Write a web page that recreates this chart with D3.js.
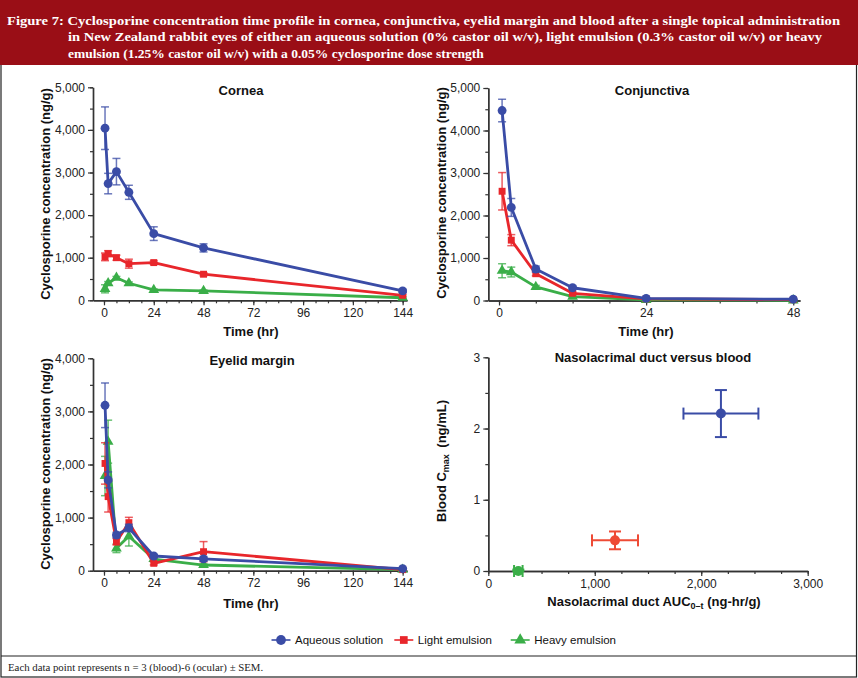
<!DOCTYPE html>
<html><head><meta charset="utf-8">
<script src="https://cdn.jsdelivr.net/npm/d3@7"></script>
<style>
html,body{margin:0;padding:0;background:#fff;}
svg{display:block;}
</style></head>
<body><div id="chart"></div>
<script>
// ---------------- DATA ----------------
const seriesNames = ["Aqueous solution", "Light emulsion", "Heavy emulsion"];
const times = [0.5, 2, 6, 12, 24, 48, 144];
const conjTimes = [0.5, 2, 6, 12, 24, 48];

const corneaAqueous = [4040, 2740, 3020, 2535, 1565, 1230, 220];
const corneaAqueousErr = [500, 240, 310, 165, 160, 95, 40];
const corneaLight = [1020, 1095, 1000, 860, 885, 612, 118];
const corneaLightErr = [90, 70, 60, 105, 40, 35, 20];
const corneaHeavy = [270, 400, 530, 400, 245, 220, 60];
const corneaHeavyErr = [95, 40, 30, 30, 20, 20, 15];

const conjAqueous = [4470, 2190, 740, 300, 50, 30];
const conjAqueousErr = [265, 210, 70, 40, 10, 10];
const conjLight = [2570, 1420, 630, 170, 40, 20];
const conjLightErr = [440, 130, 50, 30, 10, 5];
const conjHeavy = [700, 670, 320, 90, 15, 5];
const conjHeavyErr = [165, 115, 35, 15, 5, 5];

const eyelidAqueous = [3115, 1710, 672, 805, 277, 222, 40];
const eyelidAqueousErr = [420, 150, 50, 70, 30, 45, 10];
const eyelidLight = [2020, 1395, 546, 905, 139, 358, 20];
const eyelidLightErr = [390, 290, 60, 100, 30, 190, 10];
const eyelidHeavy = [1783, 2430, 421, 650, 220, 107, 20];
const eyelidHeavyErr = [370, 405, 80, 185, 20, 20, 10];

const aucValues = [2185, 1190, 282];
const aucErr = [352, 216, 40];
const cmaxValues = [2.21, 0.43, 0.0];
const cmaxErr = [0.33, 0.125, 0.02];

const timeTicks144 = [0, 24, 48, 72, 96, 120, 144];
const timeTicks48 = [0, 24, 48];
const concTicks5000 = [0, 1000, 2000, 3000, 4000, 5000];
const concTicks4000 = [0, 1000, 2000, 3000, 4000];
const aucTicks = [0, 1000, 2000, 3000];
const cmaxTicks = [0, 1, 2, 3];

const headerLines = [
  "Figure 7: Cyclosporine concentration time profile in cornea, conjunctiva, eyelid margin and blood after a single topical administration",
  "in New Zealand rabbit eyes of either an aqueous solution (0% castor oil w/v), light emulsion (0.3% castor oil w/v) or heavy",
  "emulsion (1.25% castor oil w/v) with a 0.05% cyclosporine dose strength"
];
const footerText = "Each data point represents n = 3 (blood)-6 (ocular) \u00B1 SEM.";

// ---------------- STYLE ----------------
const W = 858, H = 678;
const colors = ["#3a4ca6", "#e8262b", "#3aae48"];
const scatterColors = ["#3a4ca6", "#ee4a35", "#3aae48"];
const shapes = [d3.symbolCircle, d3.symbolSquare, d3.symbolTriangle];
const shapeSizes = [62, 48, 50];
const SANS = "'Liberation Sans', Arial, sans-serif";
const SERIF = "'Liberation Serif', 'Times New Roman', serif";

const svg = d3.select("#chart").append("svg").attr("width", W).attr("height", H);
svg.append("rect").attr("width", W).attr("height", H).attr("fill", "#fff");

// frame
svg.append("rect").attr("x", 1).attr("y", 0.5).attr("width", 855.5).attr("height", 676.5)
  .attr("fill", "none").attr("stroke", "#222").attr("stroke-width", 1.2);
svg.append("line").attr("x1", 1).attr("x2", 856.5).attr("y1", 656).attr("y2", 656)
  .attr("stroke", "#222").attr("stroke-width", 1.2);

// header
svg.append("rect").attr("x", 0).attr("y", 0).attr("width", W).attr("height", 65).attr("fill", "#9a0e16");
const hdr = [{x: 7, y: 24.5, len: 833}, {x: 68, y: 41, len: 754}, {x: 68, y: 57.5, len: null}];
headerLines.forEach((t, i) => {
  const tx = svg.append("text").attr("x", hdr[i].x).attr("y", hdr[i].y)
    .attr("fill", "#fff").attr("font-family", SERIF).attr("font-weight", "bold")
    .attr("font-size", 13.5).text(t);
  if (hdr[i].len) tx.attr("textLength", hdr[i].len).attr("lengthAdjust", "spacingAndGlyphs");
});

// footer
svg.append("text").attr("x", 8).attr("y", 670.5).attr("font-family", SERIF)
  .attr("font-size", 10.8).attr("fill", "#222").text(footerText);

// ---------------- HELPERS ----------------
function styleAxis(g) {
  g.selectAll("path.domain").attr("stroke", "#333").attr("stroke-width", 1.4);
  g.selectAll(".tick line").attr("stroke", "#333").attr("stroke-width", 1.2);
  g.selectAll(".tick text").attr("font-family", SANS).attr("font-size", 12).attr("fill", "#222");
  g.attr("font-family", null).attr("font-size", null);
}

function drawAxes(x, y, xMajor, xMinor, yMajor, yMinor, fmtX, fmtY) {
  const y0 = y.range()[0];
  const x0 = x.range()[0];
  const gxm = svg.append("g").attr("transform", `translate(0,${y0})`)
    .call(d3.axisBottom(x).tickValues(xMinor).tickSize(3).tickSizeOuter(0).tickFormat(""));
  styleAxis(gxm);
  const gx = svg.append("g").attr("transform", `translate(0,${y0})`)
    .call(d3.axisBottom(x).tickValues(xMajor).tickSize(5).tickSizeOuter(0).tickFormat(fmtX));
  styleAxis(gx);
  const gym = svg.append("g").attr("transform", `translate(${x0},0)`)
    .call(d3.axisLeft(y).tickValues(yMinor).tickSize(3).tickSizeOuter(0).tickFormat(""));
  styleAxis(gym);
  const gy = svg.append("g").attr("transform", `translate(${x0},0)`)
    .call(d3.axisLeft(y).tickValues(yMajor).tickSize(5).tickSizeOuter(0).tickFormat(fmtY));
  styleAxis(gy);
}

function errV(g, px, py0, py1, color) {
  g.append("line").attr("x1", px).attr("x2", px).attr("y1", py0).attr("y2", py1)
    .attr("stroke", color).attr("stroke-width", 1.5).attr("opacity", 0.75);
  [py0, py1].forEach(p => g.append("line").attr("x1", px - 4).attr("x2", px + 4)
    .attr("y1", p).attr("y2", p).attr("stroke", color).attr("stroke-width", 1.5).attr("opacity", 0.75));
}
function errH(g, py, px0, px1, color) {
  g.append("line").attr("x1", px0).attr("x2", px1).attr("y1", py).attr("y2", py)
    .attr("stroke", color).attr("stroke-width", 2);
  [px0, px1].forEach(p => g.append("line").attr("x1", p).attr("x2", p)
    .attr("y1", py - 6).attr("y2", py + 6).attr("stroke", color).attr("stroke-width", 2));
}

function drawSeries(x, y, xs, vals, errs, idx) {
  const g = svg.append("g");
  const color = colors[idx];
  vals.forEach((v, i) => errV(g, x(xs[i]), y(v + errs[i]), y(Math.max(0, v - errs[i])), color));
  const pts = xs.map((t, i) => [t, vals[i]]);
  g.append("path").datum(pts).attr("fill", "none").attr("stroke", color)
    .attr("stroke-width", 2.8).attr("stroke-linejoin", "round")
    .attr("d", d3.line().x(d => x(d[0])).y(d => y(d[1])));
  g.selectAll("path.m").data(pts).join("path").attr("class", "m")
    .attr("transform", d => `translate(${x(d[0])},${y(d[1])})`)
    .attr("d", d3.symbol().type(shapes[idx]).size(shapeSizes[idx]))
    .attr("fill", color);
}

function titleText(x, y, t) {
  svg.append("text").attr("x", x).attr("y", y).attr("text-anchor", "middle")
    .attr("font-family", SANS).attr("font-weight", "bold").attr("font-size", 13)
    .attr("fill", "#111").text(t);
}
function yTitle(cx, cy, t) {
  return svg.append("text").attr("transform", `translate(${cx + 4.5},${cy}) rotate(-90)`)
    .attr("text-anchor", "middle").attr("font-family", SANS).attr("font-weight", "bold")
    .attr("font-size", 13).attr("fill", "#111").text(t);
}

const fmtComma = d3.format(",");
const minor = (a, b, s) => d3.range(a, b + s / 2, s);

// ---------------- PANEL 1: Cornea ----------------
{
  const x = d3.scaleLinear().domain([-5.3, 146.1]).range([93, 407]);
  const y = d3.scaleLinear().domain([0, 5000]).range([300.3, 87.3]);
  drawAxes(x, y, timeTicks144, minor(0, 144, 6), concTicks5000, minor(0, 5000, 500), d3.format("d"), fmtComma);
  drawSeries(x, y, times, corneaHeavy, corneaHeavyErr, 2);
  drawSeries(x, y, times, corneaLight, corneaLightErr, 1);
  drawSeries(x, y, times, corneaAqueous, corneaAqueousErr, 0);
  titleText(241, 94.5, "Cornea");
  yTitle(45, 194, "Cyclosporine concentration (ng/g)");
  titleText(251, 336, "Time (hr)");
}

// ---------------- PANEL 2: Conjunctiva ----------------
{
  const x = d3.scaleLinear().domain([-1.75, 49.1]).range([488.3, 800]);
  const y = d3.scaleLinear().domain([0, 5000]).range([300.5, 88]);
  drawAxes(x, y, timeTicks48, minor(0, 48, 6), concTicks5000, minor(0, 5000, 500), d3.format("d"), fmtComma);
  drawSeries(x, y, conjTimes, conjHeavy, conjHeavyErr, 2);
  drawSeries(x, y, conjTimes, conjLight, conjLightErr, 1);
  drawSeries(x, y, conjTimes, conjAqueous, conjAqueousErr, 0);
  titleText(652, 94.5, "Conjunctiva");
  yTitle(441.7, 193, "Cyclosporine concentration (ng/g)");
  titleText(646, 336, "Time (hr)");
}

// ---------------- PANEL 3: Eyelid margin ----------------
{
  const x = d3.scaleLinear().domain([-5.3, 146.1]).range([93, 407]);
  const y = d3.scaleLinear().domain([0, 4000]).range([570.7, 358.3]);
  drawAxes(x, y, timeTicks144, minor(0, 144, 6), concTicks4000, minor(0, 4000, 500), d3.format("d"), fmtComma);
  drawSeries(x, y, times, eyelidHeavy, eyelidHeavyErr, 2);
  drawSeries(x, y, times, eyelidLight, eyelidLightErr, 1);
  drawSeries(x, y, times, eyelidAqueous, eyelidAqueousErr, 0);
  titleText(252, 364.5, "Eyelid margin");
  yTitle(45, 464, "Cyclosporine concentration (ng/g)");
  titleText(251, 607.5, "Time (hr)");
}

// ---------------- PANEL 4: Nasolacrimal duct vs blood ----------------
{
  const x = d3.scaleLinear().domain([0, 3000]).range([488.3, 807.7]);
  const y = d3.scaleLinear().domain([0, 3]).range([571, 357.3]);
  drawAxes(x, y, aucTicks, minor(0, 3000, 250), cmaxTicks, minor(0, 3, 0.5), fmtComma, d3.format("d"));
  const g = svg.append("g");
  aucValues.forEach((v, i) => {
    const c = scatterColors[i];
    const px = x(v), py = y(cmaxValues[i]);
    errH(g, py, x(v - aucErr[i]), x(v + aucErr[i]), c);
    const t0 = y(cmaxValues[i] + cmaxErr[i]), t1 = y(Math.max(0, cmaxValues[i] - cmaxErr[i]));
    g.append("line").attr("x1", px).attr("x2", px).attr("y1", t0).attr("y2", t1)
      .attr("stroke", c).attr("stroke-width", 2);
    [t0, t1].forEach(p => g.append("line").attr("x1", px - 6).attr("x2", px + 6)
      .attr("y1", p).attr("y2", p).attr("stroke", c).attr("stroke-width", 2));
    g.append("circle").attr("cx", px).attr("cy", py).attr("r", 5).attr("fill", c);
  });
  titleText(653, 361.5, "Nasolacrimal duct versus blood");
  const yl = svg.append("text").attr("transform", `translate(${441.7 + 4.5},461) rotate(-90)`)
    .attr("text-anchor", "middle").attr("font-family", SANS).attr("font-weight", "bold")
    .attr("font-size", 13).attr("fill", "#111");
  yl.append("tspan").text("Blood C");
  yl.append("tspan").attr("font-size", 9).attr("dy", 3).text("max");
  yl.append("tspan").attr("dy", -3).text("\u2002(ng/mL)");
  const xl = svg.append("text").attr("x", 654).attr("y", 606).attr("text-anchor", "middle")
    .attr("font-family", SANS).attr("font-weight", "bold").attr("font-size", 13).attr("fill", "#111");
  xl.append("tspan").text("Nasolacrimal duct AUC");
  xl.append("tspan").attr("font-size", 9).attr("dy", 3).text("0\u2013t");
  xl.append("tspan").attr("dy", -3).text(" (ng-hr/g)");
}

// ---------------- LEGEND ----------------
{
  const lx = [271.5, 394.3, 510.7];
  const ly = 640;
  seriesNames.forEach((n, i) => {
    const g = svg.append("g").attr("transform", `translate(${lx[i]},${ly})`);
    g.append("line").attr("x1", 0).attr("x2", 19).attr("y1", 0).attr("y2", 0)
      .attr("stroke", colors[i]).attr("stroke-width", 1.6);
    g.append("path").attr("transform", "translate(9.5,0)")
      .attr("d", d3.symbol().type(shapes[i]).size(i === 0 ? 75 : 60)).attr("fill", colors[i]);
    g.append("text").attr("x", 23.5).attr("y", 4.2).attr("font-family", SANS)
      .attr("font-size", 11.5).attr("fill", "#111").text(n);
  });
}
</script>
</body></html>
